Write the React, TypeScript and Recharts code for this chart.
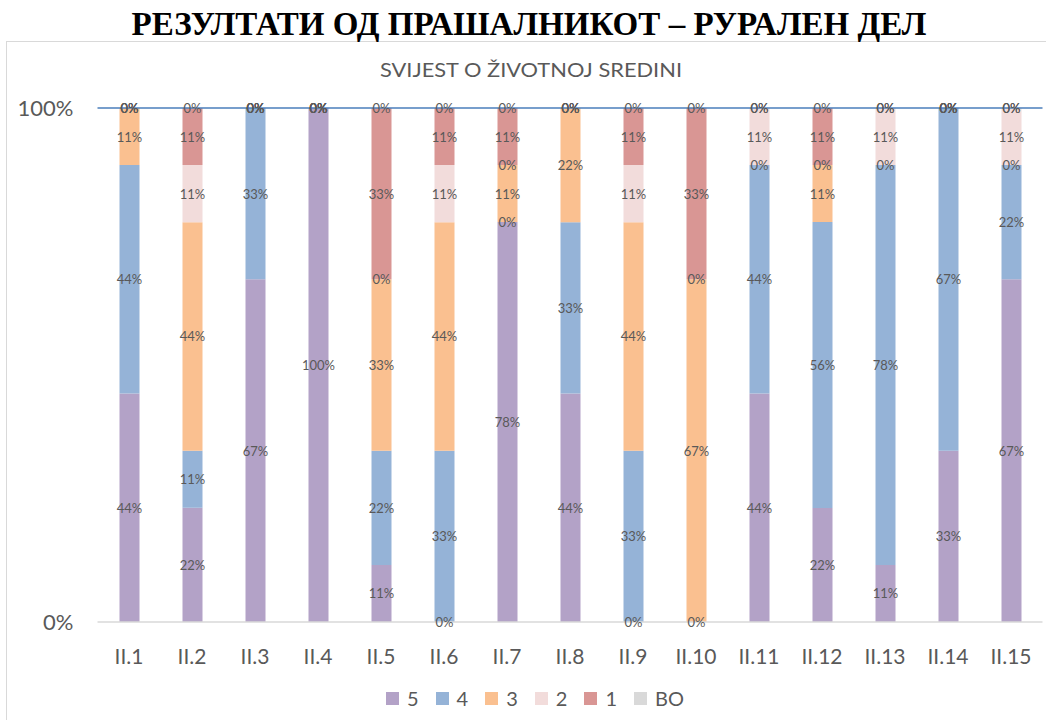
import React from "react";
import {
  Bar,
  BarChart,
  LabelList,
  Legend,
  ReferenceLine,
  XAxis,
  YAxis,
} from "recharts";

// questions on the x axis
const categories = [
  "II.1", "II.2", "II.3", "II.4", "II.5", "II.6", "II.7", "II.8",
  "II.9", "II.10", "II.11", "II.12", "II.13", "II.14", "II.15",
];

// share of answers per grade, in percent (9 respondents); null = empty cell
const grade5 = [44.4, 22.2, 66.7, 100, 11.1, 0, 77.8, 44.4, 0, null, 44.4, 22.2, 11.1, 33.3, 66.7];
const grade4 = [44.4, 11.1, 33.3, 0, 22.2, 33.3, 0, 33.3, 33.3, 0, 44.4, 55.6, 77.8, 66.7, 22.2];
const grade3 = [11.1, 44.4, 0, 0, 33.3, 44.4, 11.1, 22.2, 44.4, 66.7, 0, 11.1, 0, 0, 0];
const grade2 = [0, 11.1, 0, 0, 0, 11.1, 0, 0, 11.1, 0, 11.1, 0, 11.1, 0, 11.1];
const grade1 = [0, 11.1, 0, 0, 33.3, 11.1, 11.1, 0, 11.1, 33.3, 0, 11.1, 0, 0, 0];
const gradeBO = [0, 0, 0, 0, 0, 0, 0, 0, 0, 0, 0, 0, 0, 0, 0];

const yTicks = [0, 1];

const SERIES = [
  { key: "5", values: grade5, color: "#b3a2c7" },
  { key: "4", values: grade4, color: "#95b3d7" },
  { key: "3", values: grade3, color: "#fac090" },
  { key: "2", values: grade2, color: "#f2dcdb" },
  { key: "1", values: grade1, color: "#d99694" },
  { key: "BO", values: gradeBO, color: "#d9d9d9" },
];

const FONT = "Lato, 'Open Sans', sans-serif";
const GREY = "#595959";

const chartData = categories.map((name, i) => {
  const row: Record<string, string | number | null> = { name };
  SERIES.forEach((s) => {
    row[s.key] = s.values[i];
  });
  return row;
});

function SegmentLabel(props: any) {
  const { x, y, width, height, value } = props;
  if (value === null || value === undefined) return null;
  const v = Array.isArray(value) ? value[1] - value[0] : value;
  return (
    <text
      x={Number(x) + Number(width) / 2}
      y={Number(y) + Number(height) / 2}
      textAnchor="middle"
      dominantBaseline="central"
      fill={GREY}
      fontSize={13}
      fontFamily={FONT}
    >
      {`${Math.round(Number(v))}%`}
    </text>
  );
}

function LegendRow() {
  return (
    <div
      style={{
        display: "flex",
        justifyContent: "center",
        alignItems: "center",
        gap: 17,
        fontFamily: FONT,
        fontSize: 20,
        color: GREY,
        paddingLeft: 24,
      }}
    >
      {SERIES.map((s) => (
        <div key={s.key} style={{ display: "flex", alignItems: "center" }}>
          <span
            style={{
              display: "inline-block",
              width: 13,
              height: 13,
              background: s.color,
              marginRight: 8,
            }}
          />
          <span>{s.key}</span>
        </div>
      ))}
    </div>
  );
}

export default function App() {
  return (
    <div
      style={{
        position: "absolute",
        left: 0,
        top: 0,
        width: 1046,
        height: 720,
        overflow: "hidden",
        background: "#fff",
      }}
    >
      <svg
        width={1046}
        height={720}
        style={{ position: "absolute", left: 0, top: 0 }}
      >
        <rect x={6.5} y={41.5} width={1100} height={800} fill="none" stroke="#d9d9d9" />
        <text
          x={529}
          y={35}
          textAnchor="middle"
          fontFamily="'Liberation Serif', 'Times New Roman', serif"
          fontWeight="bold"
          fontSize={34}
          textLength={795}
          lengthAdjust="spacingAndGlyphs"
          fill="#000"
        >
          РЕЗУЛТАТИ ОД ПРАШАЛНИКОТ – РУРАЛЕН ДЕЛ
        </text>
        <text
          x={531}
          y={77}
          textAnchor="middle"
          fontFamily={FONT}
          fontSize={19}
          textLength={302}
          lengthAdjust="spacingAndGlyphs"
          fill={GREY}
        >
          SVIJEST O ŽIVOTNOJ SREDINI
        </text>
      </svg>
      <div style={{ position: "absolute", left: 0, top: 0 }}>
        <BarChart
          width={1046}
          height={720}
          data={chartData}
          stackOffset="expand"
          barSize={20}
          margin={{ top: 108, right: 3.5, left: 7.5, bottom: 40 }}
        >
          <XAxis
            dataKey="name"
            height={58}
            tickLine={false}
            tickMargin={21}
            stroke="#d9d9d9"
            strokeWidth={1.5}
            tick={{ fill: GREY, fontSize: 21, fontFamily: FONT }}
            interval={0}
          />
          <YAxis
            width={90}
            domain={[0, 1]}
            ticks={yTicks}
            axisLine={false}
            tickLine={false}
            tickMargin={18}
            tickFormatter={(v: number) => `${Math.round(v * 100)}%`}
            tick={{ fill: GREY, fontSize: 22, fontFamily: FONT }}
          />
          {SERIES.map((s) => (
            <Bar
              key={s.key}
              dataKey={s.key}
              stackId="a"
              fill={s.color}
              minPointSize={0.01}
              isAnimationActive={false}
            >
              <LabelList dataKey={s.key} content={SegmentLabel} />
            </Bar>
          ))}
          <ReferenceLine y={1} stroke="#4a7ebb" strokeWidth={1.5} />
          <Legend
            verticalAlign="middle"
            wrapperStyle={{ top: 686, left: 0, width: 1046 }}
            content={() => <LegendRow />}
          />
        </BarChart>
      </div>
    </div>
  );
}
